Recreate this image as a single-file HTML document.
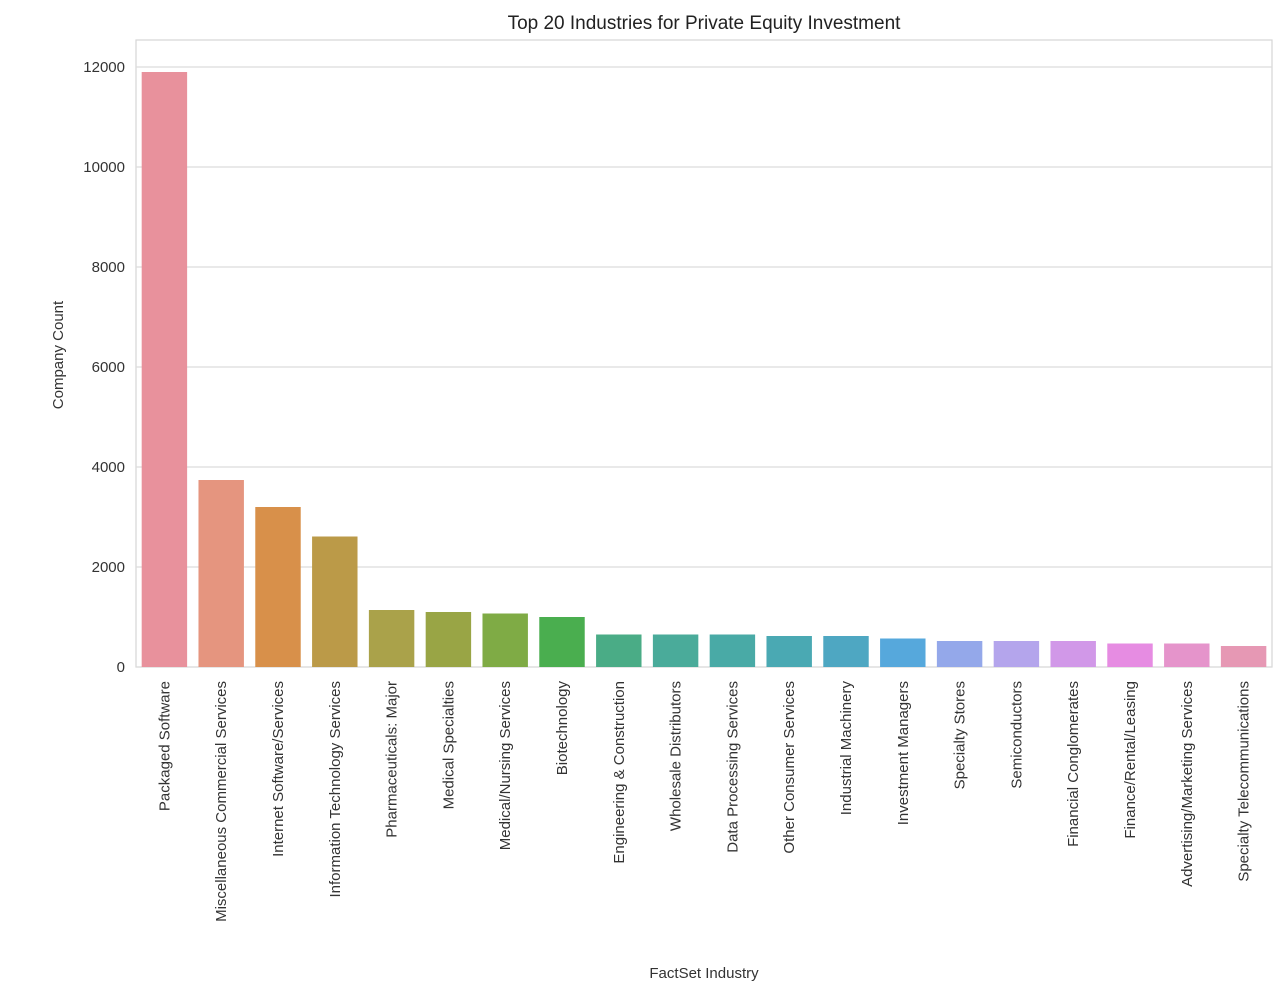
<!DOCTYPE html>
<html><head><meta charset="utf-8"><style>
body{margin:0;background:#fff;}
svg{display:block;font-family:"Liberation Sans",sans-serif;}
</style></head><body>
<svg id="chart" width="1286" height="1008"></svg>
<script>
const categories=["Packaged Software","Miscellaneous Commercial Services","Internet Software/Services","Information Technology Services","Pharmaceuticals: Major","Medical Specialties","Medical/Nursing Services","Biotechnology","Engineering & Construction","Wholesale Distributors","Data Processing Services","Other Consumer Services","Industrial Machinery","Investment Managers","Specialty Stores","Semiconductors","Financial Conglomerates","Finance/Rental/Leasing","Advertising/Marketing Services","Specialty Telecommunications"];
const counts=[11900,3740,3200,2610,1140,1100,1070,1000,650,650,650,620,620,570,520,520,520,470,470,420];
const yTicks=[0,2000,4000,6000,8000,10000,12000];
const colors=["#e8919c","#e5957f","#d8904a","#bb9a48","#aaa24a","#99a545","#7fab45","#4aae4f","#4aac86","#4aab9a","#49aaa6","#4aa9b3","#4ea7c2","#56a8dc","#94a8ea","#b4a5ec","#d198e8","#e68ce2","#e594cb","#e698b4"];
const svg=document.getElementById('chart');
const NS='http://www.w3.org/2000/svg';
const L=136,R=1272,T=40,B=667;
const y=v=>B-v*(600/12000);
const slot=(R-L)/categories.length;
const x=i=>L+slot*i;
function mk(t,a){const e=document.createElementNS(NS,t);for(const k in a)e.setAttribute(k,a[k]);svg.appendChild(e);return e;}
const bg=mk('rect',{x:L,y:T,width:R-L,height:B-T,fill:'#fff',stroke:'#d6d6d6','stroke-width':1.2});


yTicks.forEach(v=>{
 const g=mk('line',{x1:L,x2:R,y1:y(v),y2:y(v),stroke:'#dcdcdc','stroke-width':1.2});
 
 
 const t=mk('text',{x:125,y:y(v)+5,'text-anchor':'end','font-size':15,fill:'#333'});
 t.textContent=v;
 
 
});
categories.forEach((c,i)=>{
 const bw=slot*0.8;
 const r=mk('rect',{x:x(i)+slot*0.1,y:y(counts[i]),width:bw,height:B-y(counts[i]),fill:colors[i]});
 
 
 const cx=x(i)+slot/2+5;
 const t=mk('text',{x:cx,y:681,'text-anchor':'end','font-size':15,fill:'#333',transform:`rotate(-90 ${cx} 681)`});
 t.textContent=c;
 
 
});
const title=mk('text',{x:704,y:29,'text-anchor':'middle','font-size':19,fill:'#222'});
title.textContent='Top 20 Industries for Private Equity Investment';


const xt=mk('text',{x:704,y:978,'text-anchor':'middle','font-size':15,fill:'#333'});
xt.textContent='FactSet Industry';


const yt=mk('text',{x:63,y:355,'text-anchor':'middle','font-size':15,fill:'#333',transform:'rotate(-90 63 355)'});
yt.textContent='Company Count';


</script>
</body></html>
